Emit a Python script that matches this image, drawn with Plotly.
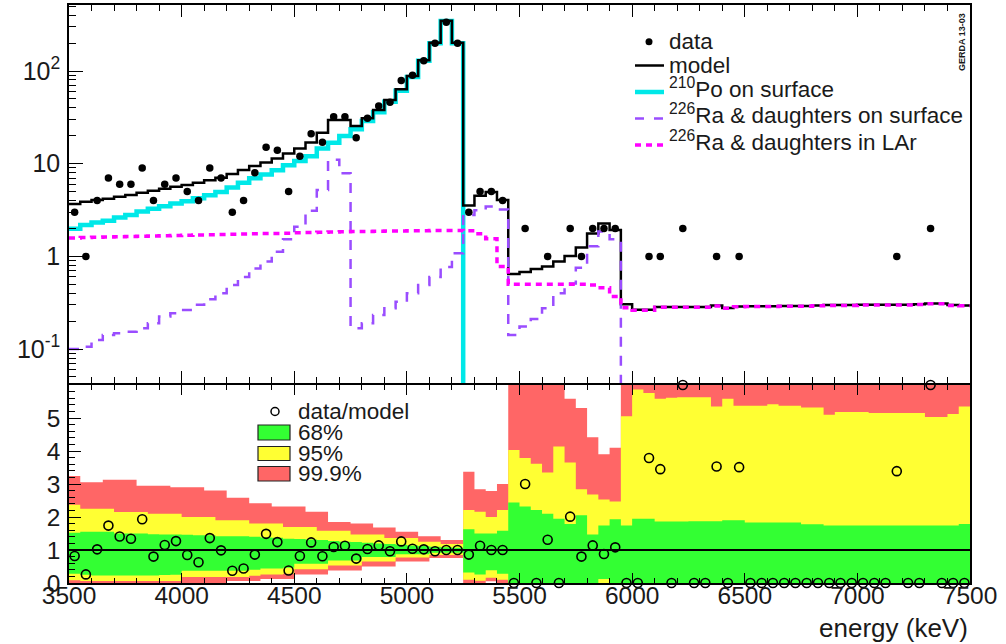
import plotly.graph_objects as go

# ---------------- data ----------------
BIN_WIDTH = 50
E_MIN, E_MAX = 3500, 7500
edges = list(range(E_MIN, E_MAX + BIN_WIDTH, BIN_WIDTH))      # 81 bin edges (keV)
centers = [e + BIN_WIDTH / 2 for e in edges[:-1]]              # 80 bin centres

# observed counts per 50 keV bin
data_counts = [3, 1, 4, 7, 6, 6, 9, 4, 6, 7, 5, 4, 9, 7, 3, 4, 8, 15, 14, 5,
               12, 21, 17, 32, 32, 19, 31, 42, 46, 79, 90, 129, 199, 335, 199,
               3, 5, 5, 4, 0, 2, 0, 1, 0, 2, 1, 2, 2, 2,
               0, 0, 1, 1, 0, 2, 0, 0, 1, 0, 1,
               0, 0, 0, 0, 0, 0, 0, 0, 0, 0, 0, 0, 0,
               1, 0, 0, 2, 0, 0, 0]

# total model
model = [3.67, 3.89, 4.05, 4.19, 4.41, 4.59, 4.87, 5.11, 5.37, 5.65,
         5.89, 6.24, 6.62, 7.06, 7.74, 8.55, 9.44, 10.3, 11.4, 12.9,
         14.6, 16.9, 21.6, 29.6, 29.6, 25.5, 30.9, 37.9, 48.7, 63.4,
         88.3, 131, 202, 349, 202,
         3.55, 4.5, 4.95, 4.06, 0.645, 0.68, 0.73, 0.78, 0.88, 1.01, 1.25, 1.77, 2.27, 1.93,
         0.305, 0.265, 0.265, 0.285, 0.285, 0.285, 0.285, 0.285, 0.295, 0.277,
         0.288, 0.29, 0.29, 0.29, 0.292, 0.292, 0.292, 0.295, 0.298, 0.298,
         0.298, 0.3, 0.3, 0.3, 0.3, 0.3, 0.305, 0.31, 0.31, 0.298, 0.295]

# 210Po on surface (non-zero only up to 5250 keV)
po210_surface = [1.99, 2.18, 2.32, 2.43, 2.63, 2.80, 3.05, 3.26, 3.48, 3.73,
                 3.94, 4.24, 4.57, 4.94, 5.52, 6.21, 6.95, 7.66, 8.51, 9.59,
                 10.7, 12.0, 14.6, 16.8, 19.9, 23.5, 28.8, 35.8, 46.5, 61.2,
                 86.0, 128.6, 199.5, 346, 199]

# 226Ra & daughters on surface (non-zero only up to 5950 keV)
ra226_surface = [0.100, 0.106, 0.125, 0.142, 0.148, 0.154, 0.168, 0.19, 0.224, 0.243,
                 0.264, 0.30, 0.345, 0.40, 0.49, 0.60, 0.74, 0.88, 1.12, 1.53,
                 2.09, 3.1, 5.2, 11.0, 7.9,
                 0.168, 0.19, 0.233, 0.275, 0.325, 0.40, 0.49, 0.60, 0.77, 1.08,
                 2.8, 3.15, 3.45, 3.2, 0.142, 0.175, 0.211, 0.276, 0.40, 0.51,
                 0.755, 1.29, 1.85, 1.53]

# 226Ra & daughters in LAr
ra226_lar = [1.58, 1.60, 1.61, 1.62, 1.63, 1.64, 1.65, 1.66, 1.67, 1.68,
             1.69, 1.70, 1.71, 1.72, 1.73, 1.74, 1.75, 1.76, 1.77, 1.78,
             1.80, 1.81, 1.82, 1.83, 1.84, 1.85, 1.86, 1.87, 1.88, 1.88,
             1.89, 1.89, 1.90, 1.90, 1.90,
             1.89, 1.75, 1.55, 0.78, 0.50, 0.50, 0.50, 0.50, 0.50, 0.50, 0.50, 0.49, 0.46, 0.37,
             0.28, 0.262, 0.262, 0.282, 0.282, 0.282, 0.282, 0.282, 0.292, 0.275,
             0.286, 0.288, 0.288, 0.288, 0.29, 0.29, 0.29, 0.293, 0.296, 0.296,
             0.296, 0.298, 0.298, 0.298, 0.298, 0.298, 0.303, 0.308, 0.308, 0.296, 0.293]

# data / model per bin (points above the frame are shown at the frame edge)
ratio = [0.82, 0.26, 1.02, 1.74, 1.41, 1.34, 1.93, 0.80, 1.15, 1.27,
         0.85, 0.63, 1.36, 0.99, 0.37, 0.44, 0.86, 1.49, 1.24, 0.38,
         0.82, 1.23, 0.81, 1.09, 1.13, 0.74, 1.03, 1.14, 0.96, 1.26,
         1.04, 1.02, 0.96, 1.00, 1.00,
         0.86, 1.13, 1.00, 1.00, 0, 3.0, 0, 1.31, 0, 2.01, 0.80, 1.14, 0.88, 1.08,
         0, 0, 3.79, 3.45, 0, 6.0, 0, 0, 3.53, 0, 3.51,
         0, 0, 0, 0, 0, 0, 0, 0, 0, 0, 0, 0, 0,
         3.39, 0, 0, 6.0, 0, 0, 0]

# probability bands of data/model
band68_hi = [1.52, 1.55, 1.55, 1.55, 1.50, 1.50, 1.50, 1.48, 1.47, 1.47,
             1.46, 1.45, 1.45, 1.42, 1.42, 1.42, 1.40, 1.38, 1.37, 1.34,
             1.33, 1.32, 1.30, 1.27, 1.25, 1.24, 1.22, 1.20, 1.18, 1.16,
             1.14, 1.12, 1.10, 1.08, 1.07,
             1.63, 1.50, 1.50, 1.58, 2.44, 2.32, 2.21, 2.10, 1.95, 1.79, 2.05, 1.47, 1.74, 1.93,
             1.74, 1.95, 1.95, 1.86, 1.86, 1.86, 1.87, 1.87, 1.87, 1.90,
             1.90, 1.83, 1.83, 1.83, 1.83, 1.83, 1.78, 1.78, 1.74, 1.74,
             1.74, 1.74, 1.74, 1.74, 1.74, 1.74, 1.74, 1.74, 1.74, 1.74, 1.79]
band68_lo = [0.28, 0.25, 0.23, 0.23, 0.23, 0.23, 0.23, 0.23, 0.24, 0.25,
             0.37, 0.37, 0.37, 0.37, 0.37, 0.37, 0.40, 0.44, 0.44, 0.46,
             0.58, 0.58, 0.58, 0.68, 0.68, 0.68, 0.79, 0.79, 0.79, 0.87,
             0.87, 0.87, 0.92, 0.92, 0.92,
             0.32, 0.26, 0.39, 0.28, 0, 0, 0, 0, 0, 0, 0, 0, 0.12, 0,
             0, 0, 0, 0, 0, 0, 0, 0, 0, 0, 0, 0, 0, 0, 0, 0,
             0, 0, 0, 0, 0, 0, 0, 0, 0, 0, 0, 0, 0, 0, 0]
band95_hi = [2.37, 2.25, 2.25, 2.25, 2.15, 2.15, 2.15, 2.10, 2.10, 2.10,
             2.00, 2.00, 2.00, 1.90, 1.90, 1.90, 1.80, 1.80, 1.80, 1.70,
             1.70, 1.70, 1.58, 1.58, 1.58, 1.47, 1.47, 1.47, 1.36, 1.36,
             1.36, 1.25, 1.25, 1.18, 1.18,
             2.21, 2.16, 2.00, 2.21, 4.03, 3.79, 3.61, 3.35, 4.14, 3.65, 2.84, 2.68, 2.53, 2.47,
             5.05, 5.86, 5.76, 5.58, 5.61, 5.63, 5.63, 5.63, 5.35, 5.58,
             5.37, 5.37, 5.37, 5.42, 5.37, 5.37, 5.32, 5.32, 5.10, 5.18,
             5.18, 5.18, 5.15, 5.15, 5.15, 5.15, 5.15, 5.03, 5.03, 5.12, 5.35]
band95_lo = [0.08, 0.06, 0.06, 0.06, 0.06, 0.06, 0.06, 0.06, 0.06, 0.06,
             0.18, 0.18, 0.18, 0.18, 0.18, 0.18, 0.22, 0.26, 0.26, 0.28,
             0.42, 0.42, 0.42, 0.53, 0.53, 0.53, 0.65, 0.65, 0.65, 0.77,
             0.77, 0.77, 0.85, 0.85, 0.85,
             0.10, 0.07, 0.16, 0.10, 0, 0, 0, 0, 0, 0, 0, 0, 0, 0,
             0, 0, 0, 0, 0, 0, 0, 0, 0, 0, 0, 0, 0, 0, 0, 0,
             0, 0, 0, 0, 0, 0, 0, 0, 0, 0, 0, 0, 0, 0, 0]
band999_hi = [3.24, 3.05, 3.05, 3.13, 3.13, 3.13, 2.95, 2.95, 2.95, 2.90,
              2.90, 2.90, 2.80, 2.80, 2.58, 2.58, 2.42, 2.42, 2.32, 2.32,
              2.32, 2.16, 2.16, 1.85, 1.85, 1.80, 1.80, 1.68, 1.68, 1.55,
              1.55, 1.42, 1.42, 1.30, 1.30,
              3.37, 2.84, 2.79, 3.00, 6.5, 6.5, 6.5, 6.5, 6.5, 5.58, 5.30, 4.42, 3.90, 4.10,
              6.5, 6.5, 6.5, 6.5, 6.5, 6.5, 6.5, 6.5, 6.5, 6.5, 6.5, 6.5, 6.5, 6.5, 6.5, 6.5,
              6.5, 6.5, 6.5, 6.5, 6.5, 6.5, 6.5, 6.5, 6.5, 6.5, 6.5, 6.5, 6.5, 6.5, 6.5]
band999_lo = [0, 0, 0, 0, 0, 0, 0, 0, 0, 0,
              0, 0, 0, 0, 0.06, 0.06, 0.06, 0.12, 0.12, 0.12,
              0.26, 0.26, 0.26, 0.38, 0.38, 0.38, 0.50, 0.50, 0.50, 0.65,
              0.65, 0.65, 0.76, 0.76, 0.76,
              0, 0, 0.05, 0, 0, 0, 0, 0, 0, 0, 0, 0, 0, 0,
              0, 0, 0, 0, 0, 0, 0, 0, 0, 0, 0, 0, 0, 0, 0, 0,
              0, 0, 0, 0, 0, 0, 0, 0, 0, 0, 0, 0, 0, 0, 0]

x_ticks = [3500, 4000, 4500, 5000, 5500, 6000, 6500, 7000, 7500]
log_ticks = [0.1, 1, 10, 100]
log_tick_text = ["10<sup>-1</sup>", "1", "10", "10<sup>2</sup>"]
ratio_ticks = [0, 1, 2, 3, 4, 5]

# ---------------- geometry ----------------
W, H = 1006, 644
ML, MR, MT, MB = 69, 36, 5, 61
PW, PH = W - ML - MR, H - MT - MB
FONT = "Liberation Sans, Arial, Helvetica, sans-serif"
ZERO_ON_LOG = 1e-4  # empty bin drawn down out of the log frame


def px(x):
    return (x - ML) / PW


def py(y):
    return (H - MB - y) / PH


def step(vals, drop_after=False):
    n = len(vals)
    xs = edges[:n + 1]
    ys = list(vals) + [ZERO_ON_LOG if drop_after else vals[-1]]
    return xs, ys


def band(lo, hi):
    xs = edges + edges[::-1]
    ys = list(hi) + [hi[-1]] + list(lo[::-1]) + [lo[0]]
    return xs, ys


fig = go.Figure()

# ---------------- top panel ----------------
xs, ys = step(po210_surface, drop_after=True)
fig.add_trace(go.Scatter(x=xs, y=ys, mode="lines", line=dict(color="#00e8e8", width=4.5, shape="hv"),
                         xaxis="x", yaxis="y", hoverinfo="skip"))
xs, ys = step(model)
fig.add_trace(go.Scatter(x=xs, y=ys, mode="lines", line=dict(color="black", width=2.5, shape="hv"),
                         xaxis="x", yaxis="y", hoverinfo="skip"))
xs, ys = step(ra226_surface, drop_after=True)
fig.add_trace(go.Scatter(x=xs, y=ys, mode="lines",
                         line=dict(color="#9a4dff", width=2.5, shape="hv", dash="10px,9px"),
                         xaxis="x", yaxis="y", hoverinfo="skip"))
xs, ys = step(ra226_lar)
fig.add_trace(go.Scatter(x=xs, y=ys, mode="lines",
                         line=dict(color="#ff00ff", width=3.5, shape="hv", dash="6px,5px"),
                         xaxis="x", yaxis="y", hoverinfo="skip"))
fig.add_trace(go.Scatter(x=centers, y=data_counts, mode="markers",
                         marker=dict(color="black", size=7.5, symbol="circle"),
                         xaxis="x", yaxis="y", hoverinfo="skip"))

# ---------------- ratio panel ----------------
for lo, hi, col in [(band999_lo, band999_hi, "#ff6666"),
                    (band95_lo, band95_hi, "#ffff33"),
                    (band68_lo, band68_hi, "#33ff33")]:
    xs, ys = band(lo, hi)
    fig.add_trace(go.Scatter(x=xs, y=ys, mode="lines", fill="toself", fillcolor=col,
                             line=dict(width=0, shape="hv", color=col),
                             xaxis="x2", yaxis="y2", hoverinfo="skip"))

fig.add_trace(go.Scatter(x=[E_MIN, E_MAX], y=[1, 1], mode="lines",
                         line=dict(color="black", width=1.8), xaxis="x2", yaxis="y2", hoverinfo="skip"))
fig.add_trace(go.Scatter(x=centers, y=ratio, mode="markers", cliponaxis=False,
                         marker=dict(symbol="circle-open", color="black", size=9, line=dict(width=1.6)),
                         xaxis="x2", yaxis="y2", hoverinfo="skip"))

# ---------------- axes ----------------
axis_common = dict(showline=True, linecolor="black", linewidth=1.5, showgrid=False, zeroline=False,
                   ticks="inside", tickcolor="black", tickwidth=1.2,
                   tickfont=dict(family=FONT, size=24.5, color="#1a1a1a"))
minor_log = [a * 10 ** b for b in (-2, -1, 0, 1, 2) for a in range(2, 10)]
top_dom = py(383)
bot_dom = py(385)

fig.update_layout(
    width=W, height=H, margin=dict(l=ML, r=MR, t=MT, b=MB, autoexpand=False),
    paper_bgcolor="white", plot_bgcolor="white", showlegend=False,
    xaxis=dict(axis_common, domain=[0, 1], range=[E_MIN, E_MAX], anchor="y", mirror="ticks",
               showticklabels=False, tickvals=x_ticks, ticklen=12,
               minor=dict(ticks="inside", dtick=100, ticklen=6, tickcolor="black", tickwidth=1)),
    yaxis=dict(axis_common, domain=[top_dom, 1], type="log", range=[-1.366, 2.712], anchor="x",
               mirror=True, tickvals=log_ticks, ticktext=log_tick_text, ticklen=14,
               ticklabelstandoff=2, tickfont=dict(family=FONT, size=25, color="#1a1a1a"),
               minor=dict(ticks="inside", tickvals=minor_log, ticklen=7, tickcolor="black", tickwidth=1)),
    xaxis2=dict(axis_common, domain=[0, 1], range=[E_MIN, E_MAX], anchor="y2", mirror="ticks",
                tickvals=x_ticks, ticklen=10, ticklabelstandoff=-10,
                minor=dict(ticks="inside", dtick=100, ticklen=5, tickcolor="black", tickwidth=1)),
    yaxis2=dict(axis_common, domain=[0, bot_dom], range=[0, 6], anchor="x2", mirror=True,
                tickvals=ratio_ticks, ticklen=12, ticklabelstandoff=2,
                minor=dict(ticks="inside", dtick=0.2, ticklen=6, tickcolor="black", tickwidth=1)),
)

# ---------------- legends / labels ----------------
LFONT = dict(family=FONT, size=22.5, color="#1a1a1a")
ann = []
shapes = []

leg_rows = [41.7, 65.5, 92, 118.5, 145]
leg_texts = ["data", "model", "<sup>210</sup>Po on surface",
             "<sup>226</sup>Ra &amp; daughters on surface", "<sup>226</sup>Ra &amp; daughters in LAr"]
for i, (yy, t) in enumerate(zip(leg_rows, leg_texts)):
    shift = -4 if "<sup>" in t else 0
    ann.append(dict(x=px(667), y=py(yy + shift), xref="paper", yref="paper", text=t, showarrow=False,
                    xanchor="left", yanchor="middle", font=LFONT))
shapes.append(dict(type="circle", xref="paper", yref="paper", xsizemode="pixel", ysizemode="pixel",
                   xanchor=px(649), yanchor=py(leg_rows[0]), x0=-3.5, x1=3.5, y0=-3.5, y1=3.5,
                   fillcolor="black", line=dict(width=0)))
for yy, col, w, dash in [(leg_rows[1], "black", 2.5, "solid"),
                         (leg_rows[2], "#00e8e8", 4.5, "solid"),
                         (leg_rows[3], "#9a4dff", 2.5, "9px,10px"),
                         (leg_rows[4], "#ff00ff", 3.5, "6px,5px")]:
    shapes.append(dict(type="line", xref="paper", yref="paper", x0=px(635), x1=px(664),
                       y0=py(yy), y1=py(yy), line=dict(color=col, width=w, dash=dash)))

# ratio legend
shapes.append(dict(type="circle", xref="paper", yref="paper", xsizemode="pixel", ysizemode="pixel",
                   xanchor=px(275), yanchor=py(411.5), x0=-4, x1=4, y0=-4, y1=4,
                   line=dict(color="black", width=1.5)))
ann.append(dict(x=px(296), y=py(411.5), xref="paper", yref="paper", text="data/model", showarrow=False,
                xanchor="left", yanchor="middle", font=LFONT))
for (y0, y1, col, t) in [(425, 440, "#33ff33", "68%"), (446.5, 460.5, "#ffff33", "95%"),
                         (466.5, 481, "#ff6666", "99.9%")]:
    shapes.append(dict(type="rect", xref="paper", yref="paper", x0=px(258), x1=px(290),
                       y0=py(y1), y1=py(y0), fillcolor=col, line=dict(color="#222222", width=1.2)))
    ann.append(dict(x=px(296), y=py((y0 + y1) / 2), xref="paper", yref="paper", text=t, showarrow=False,
                    xanchor="left", yanchor="middle", font=LFONT))

ann.append(dict(x=1.0, y=py(628), xref="paper", yref="paper", text="energy (keV)", showarrow=False,
                xanchor="right", yanchor="middle", font=dict(family=FONT, size=26, color="#1a1a1a")))
ann.append(dict(x=px(962), y=py(42), xref="paper", yref="paper", text="<b>GERDA 13-03</b>",
                showarrow=False, textangle=-90, xanchor="center", yanchor="middle",
                font=dict(family=FONT, size=9, color="#1a1a1a")))

fig.update_layout(annotations=ann, shapes=shapes)
fig.write_html("out.html", config={"displayModeBar": False},
               post_script="document.body.style.margin='0';document.body.style.overflow='hidden';")
